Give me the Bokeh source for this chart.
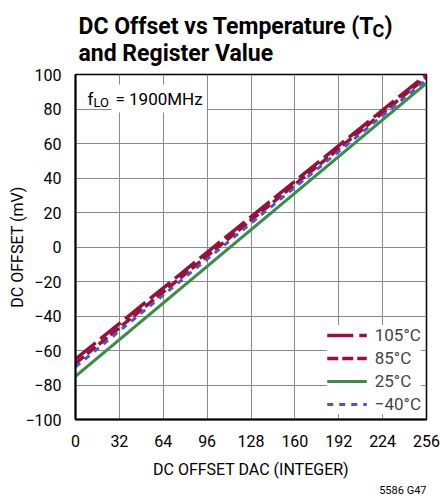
from bokeh.plotting import figure
from bokeh.layouts import column
from bokeh.models import Range1d, Label, Legend, LegendItem, FixedTicker, Title
from bokeh.embed import file_html
from bokeh.resources import INLINE

# ---- data ----
dac = [0, 256]
offset_105 = [-65.0, 100.0]
offset_85 = [-67.5, 98.5]
offset_25 = [-75.0, 95.0]
offset_m40 = [-69.5, 97.0]

x_ticks = [0, 32, 64, 96, 128, 160, 192, 224, 256]
y_ticks = [-100, -80, -60, -40, -20, 0, 20, 40, 60, 80, 100]
y_tick_labels = {v: (("\u2212" + str(-v)) if v < 0 else str(v)) for v in y_ticks}
series_labels = ["105°C", "85°C", "25°C", "\u221240°C"]

FONT = "Roboto"
RED = "#9c0f3c"
GREEN = "#3d8b4a"
BLUE = "#3f5fba"
W = 441
HEAD_H = 66
MAIN_H = 430


def put(f, t, x, y, size, style="normal", align="left", bg=None):
    # x, y in canvas pixels of figure f (top-left origin)
    lab = Label(x=x, y=y, x_units="canvas", y_units="canvas", text=t, text_font=FONT,
                text_font_size=size, text_font_style=style, text_color="black",
                text_baseline="alphabetic", text_align=align)
    if bg is not None:
        lab.background_fill_color = bg
        lab.padding = 4
    f.add_layout(lab)


# ---- header with the title ----
head = figure(width=W, height=HEAD_H, x_range=Range1d(0, 1), y_range=Range1d(0, 1),
              output_backend="svg", toolbar_location=None, x_axis_type=None, y_axis_type=None,
              min_border=0, min_border_left=0, min_border_right=0, min_border_top=0,
              min_border_bottom=0)
head.outline_line_color = None
head.grid.visible = False
head.border_fill_color = "white"
put(head, "DC Offset vs Temperature (T", 78, 26, "23px", "bold")
put(head, "C", 372, 29.5, "18px", "bold")
put(head, ")", 384, 26, "23px", "bold")
put(head, "and Register Value", 78, 52.5, "23px", "bold")

# ---- main chart ----
p = figure(width=W, height=MAIN_H, x_range=Range1d(0, 256), y_range=Range1d(-100, 100),
           output_backend="svg", toolbar_location=None,
           min_border_left=75, min_border_right=15, min_border_top=8, min_border_bottom=71)
p.background_fill_color = "white"
p.border_fill_color = "white"
p.outline_line_color = "black"
p.outline_line_width = 1.5

for ax in (p.xaxis[0], p.yaxis[0]):
    ax.major_tick_line_color = None
    ax.minor_tick_line_color = None
    ax.axis_line_color = "black"
    ax.axis_line_width = 2
    ax.major_label_text_font = FONT
    ax.major_label_text_font_size = "16px"
    ax.major_label_text_color = "black"
    ax.axis_label_text_font = FONT
    ax.axis_label_text_font_size = "16px"
    ax.axis_label_text_font_style = "normal"
    ax.axis_label_text_color = "black"

p.xaxis.ticker = FixedTicker(ticks=x_ticks)
p.yaxis.ticker = FixedTicker(ticks=y_ticks)
p.yaxis.major_label_overrides = y_tick_labels
p.xaxis.major_label_standoff = 9
p.yaxis.major_label_standoff = 8
p.xaxis.axis_label = "DC OFFSET DAC (INTEGER)"
p.yaxis.axis_label = "DC OFFSET (mV)"
p.xaxis.axis_label_standoff = 10
p.yaxis.axis_label_standoff = -5

p.xgrid.grid_line_color = "#8a8a8a"
p.ygrid.grid_line_color = "#8a8a8a"
p.xgrid.grid_line_width = 1
p.ygrid.grid_line_width = 1

r25 = p.line(dac, offset_25, line_color=GREEN, line_width=3)
r105 = p.line(dac, offset_105, line_color=RED, line_width=3.5, line_dash="26 6")
r85 = p.line(dac, offset_85, line_color=RED, line_width=3.5, line_dash="11 4")
rm40 = p.line(dac, offset_m40, line_color=BLUE, line_width=3, line_dash="6 6")

legend = Legend(items=[LegendItem(label=series_labels[0], renderers=[r105]),
                       LegendItem(label=series_labels[1], renderers=[r85]),
                       LegendItem(label=series_labels[2], renderers=[r25]),
                       LegendItem(label=series_labels[3], renderers=[rm40])],
                location="bottom_right", background_fill_color="white", background_fill_alpha=1,
                border_line_color=None, label_text_font=FONT, label_text_font_size="17px",
                glyph_width=40, glyph_height=18, label_height=18, spacing=3, padding=6,
                margin=5, label_standoff=8)
p.add_layout(legend)

# f_LO annotation (canvas pixels of the main figure, which starts 66px down the page)
put(p, "= 1900MHz", 111, 32, "17px", bg="white")
put(p, "f", 87, 32, "17px")
put(p, "LO", 93, 35.5, "13px")

# figure code below the x axis title
p.add_layout(Title(text="5586 G47", align="right", text_font=FONT, text_font_size="11px",
                   text_font_style="normal", text_color="black", standoff=0), "below")

layout = column(head, p, spacing=0)
open("out.html", "w").write(file_html(layout, INLINE))
